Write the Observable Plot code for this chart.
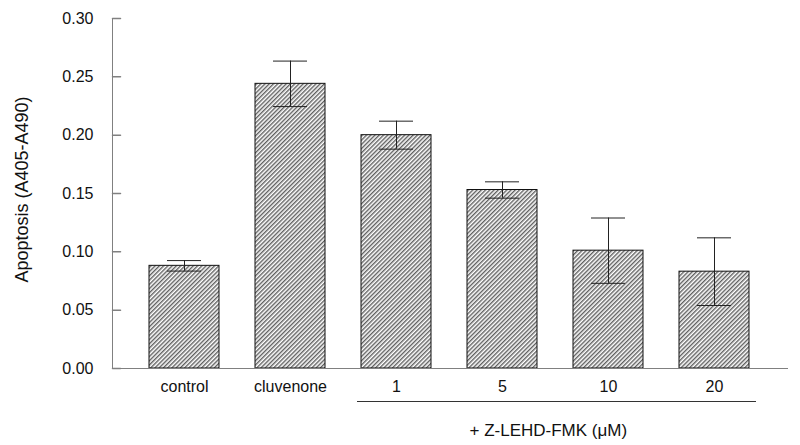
<!DOCTYPE html>
<html><head><meta charset="utf-8">
<script src="https://cdn.jsdelivr.net/npm/d3@7"></script>
<script src="https://cdn.jsdelivr.net/npm/@observablehq/plot@0.6"></script>
<style>body{margin:0;background:#fff}</style>
</head><body><div id="chart"></div>
<script>
const categories = ["control", "cluvenone", "1", "5", "10", "20"];
const means = [0.088, 0.244, 0.200, 0.153, 0.101, 0.083];
const errors = [0.0045, 0.0195, 0.012, 0.007, 0.028, 0.029];
const yTicks = [0, 0.05, 0.10, 0.15, 0.20, 0.25, 0.30];
const yLabel = "Apoptosis (A405-A490)";
const groupLabel = "+ Z-LEHD-FMK (\u03bcM)";
const groupRange = [{x1: "1", x2: "20"}];

const data = categories.map((c, i) => ({category: c, value: means[i], lo: means[i] - errors[i], hi: means[i] + errors[i]}));

const tickShape = {draw(ctx, l) { ctx.moveTo(0, 0); ctx.lineTo(0, -l); }};

const plot = Plot.plot({
  width: 800, height: 445,
  marginLeft: 112, marginRight: 13, marginTop: 18, marginBottom: 77,
  style: {fontFamily: "Arial, 'Liberation Sans', sans-serif", fontSize: "16px", color: "#111", background: "#fff"},
  x: {domain: categories, paddingInner: 0.336, paddingOuter: 0, insetLeft: 34.5, insetRight: 35.5, label: null},
  y: {domain: [0, 0.3], label: null},
  marks: [
    Plot.barY(data, {x: "category", y: "value", fill: "url(#hatch)", stroke: "#111", strokeWidth: 1}),
    Plot.ruleX(data, {x: "category", y1: "lo", y2: "hi", stroke: "#222"}),
    Plot.tickY(data, {x: "category", y: "lo", stroke: "#222", insetLeft: 18, insetRight: 18}),
    Plot.tickY(data, {x: "category", y: "hi", stroke: "#222", insetLeft: 18, insetRight: 18}),
    Plot.frame({anchor: "left", stroke: "#808080"}),
    Plot.frame({anchor: "bottom", stroke: "#808080"}),
    Plot.vectorY(yTicks, {y: d => d, frameAnchor: "left", length: 8, rotate: 90, anchor: "start", shape: tickShape, stroke: "#808080"}),
    Plot.axisY({ticks: yTicks, tickSize: 0, tickPadding: 19, tickFormat: d3.format(".2f"), label: null}),
    Plot.axisX({tickSize: 0, tickPadding: 12, label: null}),
    Plot.text([yLabel], {frameAnchor: "left", textAnchor: "middle", rotate: -90, dx: -90, dy: -4, text: d => d, fontSize: 18}),
    Plot.ruleY(groupRange, {x1: "x1", x2: "x2", y: () => 0, dy: 33, insetLeft: -4, insetRight: -7, stroke: "#333"}),
    Plot.text([groupLabel], {x: () => "5", y: () => 0, dy: 62, dx: -33, textAnchor: "start", text: d => d, fontSize: 17})
  ]
});

const defs = d3.select(plot).insert("defs", ":first-child");
const pat = defs.append("pattern").attr("id", "hatch").attr("patternUnits", "userSpaceOnUse")
  .attr("width", 3).attr("height", 3).attr("patternTransform", "rotate(45)");
pat.append("rect").attr("width", 3).attr("height", 3).attr("fill", "#fff");
pat.append("line").attr("x1", 0.75).attr("y1", 0).attr("x2", 0.75).attr("y2", 3).attr("stroke", "#444").attr("stroke-width", 1.2);

document.getElementById("chart").appendChild(plot);
</script>
</body></html>
